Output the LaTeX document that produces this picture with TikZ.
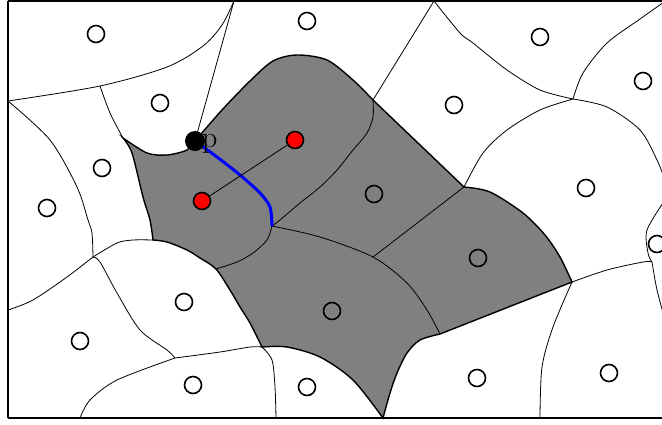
\documentclass[tikz,border=0pt]{standalone}
\usepackage{fontspec}
\begin{document}
\begin{tikzpicture}[x=1pt,y=-1pt,
  edge/.style={line width=0.8pt,black},
  bound/.style={line width=1.4pt,black},
  site/.style={line width=1.6pt,draw=black,fill=none},
  redsite/.style={line width=1.6pt,draw=black,fill=red},
  frame/.style={line width=2.4pt,black}]
\useasboundingbox (0,0) rectangle (662,424);
% vertices
\coordinate (A) at (8,101);
\coordinate (B) at (234,1);
\coordinate (P) at (195,141);
\coordinate (C) at (100,86);
\coordinate (D) at (123,138);
\coordinate (E) at (93,257);
\coordinate (F) at (153,240);
\coordinate (G) at (216,269);
\coordinate (H) at (272,226);
\coordinate (I) at (373,100);
\coordinate (K) at (434,1);
\coordinate (L) at (464,187);
\coordinate (M) at (573,99);
\coordinate (N) at (373,257);
\coordinate (O) at (572,282);
\coordinate (Q) at (440,334);
\coordinate (R) at (383,418);
\coordinate (S) at (262,347);
\coordinate (T) at (175,358);
\coordinate (U) at (8,310);
\coordinate (V) at (80,418);
\coordinate (W) at (276,418);
\coordinate (X) at (540,418);
\coordinate (Y) at (652,262);
\begin{scope}
\clip (0,0) rectangle (662,424);
% gray region
\fill[gray] plot[smooth] coordinates {(P) (222,110) (250,81) (273,61) (297,55) (327,60) (353,80) (I)}
  -- (L)
  -- plot[smooth] coordinates {(L) (490,192) (523,213) (545,235) (560,257) (O)}
  -- (Q)
  -- plot[smooth] coordinates {(Q) (420,340) (407,353) (397,373) (390,393) (R)}
  -- plot[smooth] coordinates {(R) (353,380) (320,357) (287,347) (S)}
  -- plot[smooth] coordinates {(S) (250,323) (240,307) (230,290) (G) (200,258) (187,250) (167,242) (F)}
  -- plot[smooth] coordinates {(F) (150,220) (143,197) (132,153) (D)}
  -- plot[smooth] coordinates {(D) (147,153) (167,155) (187,150) (P)}
  -- cycle;
% thin edges
\draw[edge] plot[smooth] coordinates {(A) (C) (167,67) (203,46) (222,25) (B)};
\draw[edge] (B) -- (P);
\draw[edge] plot[smooth] coordinates {(C) (110,113) (D)};
\draw[edge] plot[smooth] coordinates {(A) (50,140) (77,187) (88,220) (92,233) (E)};
\draw[edge] plot[smooth] coordinates {(E) (117,243) (133,240) (F)};
\draw[edge] plot[smooth] coordinates {(E) (67,277) (33,300) (U)};
\draw[edge] plot[smooth] coordinates {(E) (100,262) (117,293) (140,330) (167,350) (T)};
\draw[edge] plot[smooth] coordinates {(T) (220,352) (250,347) (S)};
\draw[edge] plot[smooth] coordinates {(T) (117,380) (90,400) (V)};
\draw[edge] plot[smooth] coordinates {(S) (272,360) (275,387) (W)};
\draw[edge] (K) -- (I);
\draw[edge] plot[smooth] coordinates {(K) (460,33) (473,43) (507,70) (540,90) (M)};
\draw[edge] plot[smooth] coordinates {(M) (583,73) (607,43) (640,19) (664,2)};
\draw[edge] plot[smooth] coordinates {(M) (540,110) (507,130) (483,153) (L)};
\draw[edge] plot[smooth] coordinates {(M) (607,107) (640,130) (657,160) (665,180)};
\draw[edge] plot[smooth] coordinates {(665,200) (647,230) (648,253) (Y)};
\draw[edge] plot[smooth] coordinates {(Y) (643,262) (607,270) (O)};
\draw[edge] plot[smooth] coordinates {(Y) (657,290) (665,320)};
\draw[edge] plot[smooth] coordinates {(O) (553,327) (542,367) (X)};
% internal edges of the gray region
\draw[edge] plot[smooth] coordinates {(I) (373,117) (367,133) (353,150) (337,170) (320,187) (300,203) (280,220) (H)};
\draw[edge] plot[smooth] coordinates {(H) (267,240) (253,253) (237,262) (G)};
\draw[edge] plot[smooth] coordinates {(H) (320,237) (N) (407,283) (427,310) (Q)};
\draw[edge] (L) -- (N);
% gray boundary
\draw[bound] plot[smooth] coordinates {(P) (222,110) (250,81) (273,61) (297,55) (327,60) (353,80) (I)}
  -- (L)
  -- plot[smooth] coordinates {(L) (490,192) (523,213) (545,235) (560,257) (O)}
  -- (Q)
  -- plot[smooth] coordinates {(Q) (420,340) (407,353) (397,373) (390,393) (R)}
  -- plot[smooth] coordinates {(R) (353,380) (320,357) (287,347) (S)}
  -- plot[smooth] coordinates {(S) (250,323) (240,307) (230,290) (G) (200,258) (187,250) (167,242) (F)}
  -- plot[smooth] coordinates {(F) (150,220) (143,197) (132,153) (D)}
  -- plot[smooth] coordinates {(D) (147,153) (167,155) (187,150) (P)};
% blue curve
\draw[blue,line width=3pt] plot[smooth] coordinates {(P) (217,157) (240,175) (260,193) (270,207) (H)};
% red sites and segment
\node[circle,redsite,minimum size=17pt,inner sep=0pt] (r1) at (202,201) {};
\node[circle,redsite,minimum size=17pt,inner sep=0pt] (r2) at (295,140) {};
\draw[edge] (r1) -- (r2);
% sites
\foreach \i/\x/\y in {1/96/34,2/307/21,3/540/37,4/643/81,5/160/103,6/454/105,7/102/168,8/47/208,9/374/194,10/586/188,11/657/244,12/478/258,13/184/302,14/332/311,15/80/341,16/193/385,17/307/387,18/477/378,19/609/373}
  \node[circle,site,minimum size=17pt,inner sep=0pt] (s\i) at (\x,\y) {};
% point p
\fill[black] (P) circle (10pt);
% frame
\draw[frame] (8,1) -- (700,1);
\draw[frame] (8,1) -- (8,418);
\draw[frame] (8,418) -- (700,418);
\end{scope}
\node[anchor=base west,inner sep=0pt,text=black,font=\fontsize{30pt}{36pt}\selectfont] (plabel) at (202,147) {p};
\end{tikzpicture}
\end{document}
